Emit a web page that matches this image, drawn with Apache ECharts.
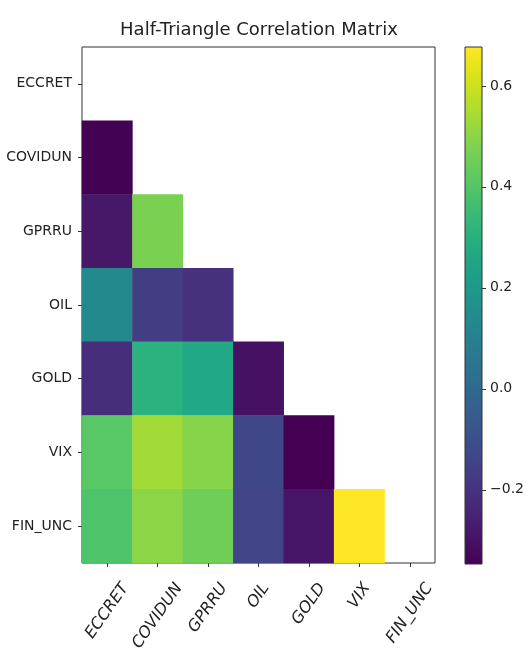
<!DOCTYPE html>
<html>
<head>
<meta charset="utf-8">
<script src="https://cdn.jsdelivr.net/npm/echarts@6/dist/echarts.min.js"></script>
<style>html,body{margin:0;padding:0;background:#fff}#c{width:526px;height:648px}</style>
</head>
<body>
<div id="c"></div>
<script>
// Variables (rows top to bottom, columns left to right)
var labels = ['ECCRET', 'COVIDUN', 'GPRRU', 'OIL', 'GOLD', 'VIX', 'FIN_UNC'];
// Lower-triangle correlations: row i holds correlations with columns 0..i-1
var rowCOVIDUN = [-0.345];
var rowGPRRU   = [-0.285, 0.472];
var rowOIL     = [0.134, -0.163, -0.204];
var rowGOLD    = [-0.214, 0.308, 0.267, -0.301];
var rowVIX     = [0.410, 0.534, 0.490, -0.132, -0.347];
var rowFINUNC  = [0.390, 0.500, 0.450, -0.142, -0.290, 0.677];
var lowerRows = [[], rowCOVIDUN, rowGPRRU, rowOIL, rowGOLD, rowVIX, rowFINUNC];
// Color scale limits and colorbar ticks
var cMin = -0.347, cMax = 0.677;
var cbarTicks = [-0.2, 0.0, 0.2, 0.4, 0.6];
var viridis = ['#440154','#471365','#482475','#463480','#414487','#3b528b','#355f8d','#2f6c8e','#2a788e','#25848e','#21918c','#1e9c89','#22a884','#2fb47c','#44bf70','#5ec962','#7ad151','#9bd93c','#bddf26','#dfe318','#fde725'];

var heatData = [];
lowerRows.forEach(function (row, i) {
  row.forEach(function (v, j) { heatData.push([j, i, v]); });
});

var FONT = "'DejaVu Sans', sans-serif";
var XFS = 16, ROT = 55;
var th = ROT * Math.PI / 180;
// rich styles that centre each rotated x label under its tick
var mctx = document.createElement('canvas').getContext('2d');
mctx.font = 'italic ' + XFS + 'px ' + FONT;
var xRich = {};
labels.forEach(function (t, i) {
  var L = mctx.measureText(t).width;
  xRich['l' + i] = {
    fontFamily: FONT, fontStyle: 'italic', fontSize: XFS, color: '#222',
    padding: [L * Math.sin(th) * Math.cos(th), L * Math.sin(th) * Math.sin(th), 0, 0]
  };
});

var chart = echarts.init(document.getElementById('c'), null, {renderer: 'canvas'});
var gradStops = viridis.map(function (c, k) { return {offset: 1 - k / (viridis.length - 1), color: c}; });

chart.setOption({
  animation: false,
  backgroundColor: '#fff',
  title: {
    text: 'Half-Triangle Correlation Matrix',
    left: 254, top: 16, textAlign: 'center',
    textStyle: {fontFamily: FONT, fontSize: 18, fontWeight: 'normal', color: '#222'}
  },
  grid: [
    {left: 82, top: 47, width: 353, height: 516, show: true, borderColor: '#333', borderWidth: 1,
     backgroundColor: 'transparent', containLabel: false, outerBoundsMode: 'none'},
    {left: 465, top: 47, width: 17, height: 517, containLabel: false, outerBoundsMode: 'none'}
  ],
  xAxis: [
    {
      type: 'category', gridIndex: 0, data: labels, position: 'bottom',
      axisLine: {show: false}, splitLine: {show: false},
      axisTick: {show: true, alignWithLabel: true, length: 4, lineStyle: {color: '#333'}},
      axisLabel: {
        interval: 0, rotate: ROT, margin: 22, align: 'center', verticalAlign: 'middle',
        fontFamily: FONT, fontStyle: 'italic', fontSize: XFS, color: '#222',
        formatter: function (v, i) { return '{l' + i + '|' + v + '}'; },
        rich: xRich
      }
    },
    {type: 'category', gridIndex: 1, data: ['c'], show: false}
  ],
  yAxis: [
    {
      type: 'category', gridIndex: 0, data: labels, inverse: true,
      axisLine: {show: false}, splitLine: {show: false},
      axisTick: {show: true, alignWithLabel: true, length: 4, lineStyle: {color: '#333'}},
      axisLabel: {interval: 0, margin: 10, fontFamily: FONT, fontSize: 14, color: '#222'}
    },
    {
      type: 'value', gridIndex: 1, position: 'right', min: cMin, max: cMax,
      axisLine: {show: false}, splitLine: {show: false},
      axisTick: {show: true, length: 4, lineStyle: {color: '#333'}, customValues: cbarTicks},
      axisLabel: {
        margin: 8, fontFamily: FONT, fontSize: 14, color: '#222', customValues: cbarTicks,
        formatter: function (v) { return (v < 0 ? '\u2212' : '') + Math.abs(v).toFixed(1); }
      }
    }
  ],
  visualMap: {
    show: false, type: 'continuous', min: cMin, max: cMax, seriesIndex: 0, dimension: 2,
    inRange: {color: viridis}
  },
  series: [
    {
      type: 'heatmap', xAxisIndex: 0, yAxisIndex: 0, data: heatData,
      itemStyle: {borderWidth: 0}, emphasis: {disabled: true}
    },
    {
      type: 'custom', xAxisIndex: 1, yAxisIndex: 1, data: [[0, cMin, cMax]],
      renderItem: function (params, api) {
        var top = api.coord([0, api.value(2)]);
        var bot = api.coord([0, api.value(1)]);
        var w = api.size([1, 0])[0];
        return {
          type: 'rect',
          shape: {x: top[0] - w / 2, y: top[1], width: w, height: bot[1] - top[1]},
          style: {
            fill: new echarts.graphic.LinearGradient(0, 0, 0, 1, gradStops),
            stroke: '#333', lineWidth: 1
          }
        };
      }
    }
  ]
});
</script>
</body>
</html>
